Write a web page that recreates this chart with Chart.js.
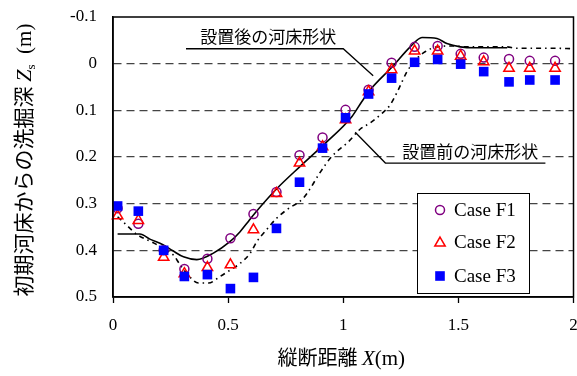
<!DOCTYPE html>
<html>
<head>
<meta charset="utf-8">
<script src="https://cdn.jsdelivr.net/npm/chart.js@4.4.1/dist/chart.umd.min.js"></script>
<style>
  html, body { margin: 0; padding: 0; background: #fff; overflow: hidden; }
  /* a little wider than the window: the point overflow padding eats into the right edge */
  #wrap { width: 581px; height: 376px; }
</style>
</head>
<body>
<div id="wrap"><canvas id="scourChart"></canvas></div>
<script>
// measured positions along the flume (m)
const caseX = [0.02, 0.11, 0.22, 0.31, 0.41, 0.51, 0.61, 0.71, 0.81, 0.91,
               1.01, 1.11, 1.21, 1.31, 1.41, 1.51, 1.61, 1.72, 1.81, 1.92];
const caseF1 = [0.31, 0.343, 0.40, 0.44, 0.418, 0.374, 0.322, 0.275, 0.196, 0.158,
                0.099, 0.056, -0.002, -0.036, -0.038, -0.021, -0.013, -0.01, -0.006, -0.006];
const caseF2 = [0.326, 0.336, 0.415, 0.45, 0.437, 0.431, 0.356, 0.278, 0.213, 0.178,
                0.12, 0.06, 0.013, -0.027, -0.027, -0.016, -0.004, 0.01, 0.01, 0.01];
const caseF3 = [0.305, 0.316, 0.40, 0.456, 0.452, 0.482, 0.458, 0.353, 0.254, 0.181,
                0.116, 0.065, 0.031, -0.003, -0.009, 0.001, 0.017, 0.039, 0.035, 0.035];

// bed profile after installation (solid)
const afterX = [0.02, 0.117, 0.16, 0.217, 0.26, 0.306, 0.364, 0.436, 0.509, 0.552, 0.588, 0.617,
                0.711, 0.813, 0.914, 1.038, 1.081, 1.117, 1.214, 1.291, 1.342, 1.407, 1.45,
                1.509, 1.567, 1.712];
const afterZ = [0.365, 0.365, 0.376, 0.388, 0.401, 0.414, 0.42, 0.406, 0.381, 0.36, 0.338, 0.32,
                0.268, 0.22, 0.174, 0.113, 0.081, 0.056, 0.006, -0.036, -0.056, -0.054, -0.043,
                -0.036, -0.034, -0.034];

// bed profile before installation (dash-dot)
const beforeX = [0.02, 0.055, 0.104, 0.18, 0.22, 0.262, 0.29, 0.33, 0.371, 0.415, 0.465, 0.50,
                 0.552, 0.596, 0.625, 0.66, 0.711, 0.755, 0.827, 0.86, 0.893, 0.95, 1.023, 1.074,
                 1.117, 1.16, 1.204, 1.24, 1.277, 1.32, 1.357, 1.407, 1.48, 1.53, 1.71, 1.75,
                 1.92, 2.0];
const beforeZ = [0.328, 0.344, 0.366, 0.385, 0.397, 0.41, 0.43, 0.455, 0.47, 0.47, 0.456, 0.445,
                 0.428, 0.406, 0.381, 0.36, 0.331, 0.313, 0.288, 0.265, 0.238, 0.199, 0.167, 0.14,
                 0.127, 0.11, 0.088, 0.055, 0.017, -0.011, -0.026, -0.036, -0.038, -0.036, -0.036,
                 -0.033, -0.033, -0.032];

const xTicks = [0, 0.5, 1, 1.5, 2];
const yTicks = [-0.1, 0, 0.1, 0.2, 0.3, 0.4, 0.5];
const legendNames = ['Case F1', 'Case F2', 'Case F3'];

const SERIF = '"Liberation Serif", "Times New Roman", serif';
const JP = '"Noto Sans CJK JP", sans-serif';

function pts(xs, ys) {
    return xs.map((x, i) => ({ x: x, y: ys[i] }));
}

// draws the plot frame, leader labels, legend and axis titles
const decorations = {
    id: 'decorations',
    afterDraw(chart) {
        const ctx = chart.ctx;
        const a = chart.chartArea;
        const sx = chart.scales.x, sy = chart.scales.y;
        const P = (x, y) => [sx.getPixelForValue(x), sy.getPixelForValue(y)];

        ctx.save();
        // frame
        ctx.strokeStyle = '#000';
        ctx.lineWidth = 1.5;
        ctx.strokeRect(a.left, a.top, a.right - a.left, a.bottom - a.top);

        // leader lines
        ctx.lineWidth = 1.3;
        ctx.beginPath();
        let p = P(0.317, -0.032); ctx.moveTo(p[0], p[1]);
        p = P(1.0, -0.032); ctx.lineTo(p[0], p[1]);
        p = P(1.13, 0.026); ctx.lineTo(p[0], p[1]);
        ctx.stroke();
        ctx.beginPath();
        p = P(1.052, 0.147); ctx.moveTo(p[0], p[1]);
        p = P(1.183, 0.213); ctx.lineTo(p[0], p[1]);
        p = P(1.878, 0.213); ctx.lineTo(p[0], p[1]);
        ctx.stroke();

        ctx.fillStyle = '#000';
        ctx.font = '17px ' + JP;
        ctx.textAlign = 'center';
        ctx.textBaseline = 'middle';
        p = P(0.674, -0.058);
        ctx.fillText('設置後の河床形状', p[0], p[1]);
        p = P(1.552, 0.189);
        ctx.clearRect(p[0] - 72, p[1] - 9, 144, 18);
        ctx.fillText('設置前の河床形状', p[0], p[1]);

        // legend
        const lx = 417, ly = 193, lw = 112, lh = 100;
        ctx.fillStyle = '#fff';
        ctx.fillRect(lx, ly, lw, lh);
        ctx.strokeStyle = '#000';
        ctx.lineWidth = 1;
        ctx.strokeRect(lx + 0.5, ly + 0.5, lw, lh);
        const rows = [210, 242, 276];
        ctx.font = '19px ' + SERIF;
        ctx.textAlign = 'left';
        rows.forEach((ry, i) => {
            const ds = chart.data.datasets[i];
            ctx.fillStyle = ds.backgroundColor;
            ctx.strokeStyle = ds.borderColor;
            ctx.lineWidth = ds.borderWidth;
            ctx.beginPath();
            if (ds.pointStyle === 'circle') {
                ctx.arc(440, ry, ds.pointRadius, 0, Math.PI * 2);
            } else if (ds.pointStyle === 'triangle') {
                for (let k = 0; k < 3; k++) {
                    const ang = k * 2 * Math.PI / 3;
                    const px = 440 + Math.sin(ang) * ds.pointRadius;
                    const py = ry + 1 - Math.cos(ang) * ds.pointRadius;
                    if (k === 0) ctx.moveTo(px, py); else ctx.lineTo(px, py);
                }
                ctx.closePath();
            } else {
                const s = ds.pointRadius * Math.SQRT1_2;
                ctx.rect(440 - s, ry - s, 2 * s, 2 * s);
            }
            ctx.fill();
            if (ds.borderWidth > 0) ctx.stroke();
            ctx.fillStyle = '#000';
            ctx.fillText(legendNames[i], 454, ry + 1);
        });

        // x axis title: 縦断距離 X(m)
        const xParts = [
            { t: '縦断距離 ', f: '20px ' + JP },
            { t: 'X', f: 'italic 21px ' + SERIF },
            { t: '(m)', f: '21px ' + SERIF }
        ];
        let total = 0;
        xParts.forEach(q => { ctx.font = q.f; q.w = ctx.measureText(q.t).width; total += q.w; });
        let cx = (a.left + a.right) / 2 - total / 2 - 2;
        ctx.textBaseline = 'alphabetic';
        xParts.forEach(q => { ctx.font = q.f; ctx.fillText(q.t, cx, 365); cx += q.w; });

        // y axis title (rotated): 初期河床からの洗掘深 Zs (m)
        const yParts = [
            { t: '初期河床からの洗掘深 ', f: '21px ' + JP, dy: 0 },
            { t: 'Z', f: 'italic 22px ' + SERIF, dy: 0 },
            { t: 's', f: '13px ' + SERIF, dy: 4 },
            { t: '  (m)', f: '21px ' + SERIF, dy: 0 }
        ];
        total = 0;
        yParts.forEach(q => { ctx.font = q.f; q.w = ctx.measureText(q.t).width; total += q.w; });
        ctx.translate(31, 160);
        ctx.rotate(-Math.PI / 2);
        cx = -total / 2;
        yParts.forEach(q => { ctx.font = q.f; ctx.fillText(q.t, cx, q.dy); cx += q.w; });
        ctx.restore();
    }
};

new Chart(document.getElementById('scourChart').getContext('2d'), {
    type: 'scatter',
    data: {
        datasets: [
            {
                label: 'Case F1',
                data: pts(caseX, caseF1),
                pointStyle: 'circle',
                pointRadius: 4.5,
                borderColor: '#800080',
                backgroundColor: 'rgba(0,0,0,0)',
                borderWidth: 1.5,
                order: 3
            },
            {
                label: 'Case F2',
                data: pts(caseX, caseF2),
                pointStyle: 'triangle',
                pointRadius: 6,
                borderColor: '#ff0000',
                backgroundColor: 'rgba(0,0,0,0)',
                borderWidth: 1.5,
                order: 2
            },
            {
                label: 'Case F3',
                data: pts(caseX, caseF3),
                pointStyle: 'rect',
                pointRadius: 6.8,
                borderColor: '#0000ff',
                backgroundColor: '#0000ff',
                borderWidth: 0,
                order: 1
            },
            {
                label: '設置後の河床形状',
                data: pts(afterX, afterZ),
                showLine: true,
                pointRadius: 0,
                borderColor: '#000',
                borderWidth: 1.6,
                cubicInterpolationMode: 'monotone',
                order: 4
            },
            {
                label: '設置前の河床形状',
                data: pts(beforeX, beforeZ),
                showLine: true,
                pointRadius: 0,
                borderColor: '#000',
                borderWidth: 1.6,
                borderDash: [5, 4, 1.5, 4],
                cubicInterpolationMode: 'monotone',
                order: 5
            }
        ]
    },
    options: {
        responsive: true,
        maintainAspectRatio: false,
        animation: false,
        clip: false,
        layout: { padding: { top: 17, right: 4, left: 0, bottom: 0 } },
        plugins: {
            legend: { display: false },
            tooltip: { enabled: false }
        },
        scales: {
            x: {
                type: 'linear',
                min: 0,
                max: 2,
                afterBuildTicks: function(scale) {
                    scale.ticks = xTicks.map(v => ({ value: v }));
                },
                afterFit: function(scale) {
                    scale.height = 79;
                    scale.paddingLeft = 0;
                    scale.paddingRight = 0;
                },
                ticks: {
                    color: '#000',
                    padding: 0,
                    font: { family: SERIF, size: 17, lineHeight: 2.7 },
                    callback: v => String(v)
                },
                grid: {
                    drawOnChartArea: false,
                    drawTicks: true,
                    tickLength: 6,
                    tickColor: '#000',
                    tickWidth: 1.3
                },
                border: { display: true, color: '#000', width: 1.5 }
            },
            y: {
                type: 'linear',
                min: -0.1,
                max: 0.5,
                reverse: true,
                afterBuildTicks: function(scale) {
                    scale.ticks = yTicks.map(v => ({ value: v }));
                },
                afterFit: function(scale) { scale.width = 113; },
                ticks: {
                    color: '#000',
                    padding: 0,
                    font: { family: SERIF, size: 17 },
                    callback: v => String(Math.round(v * 10) / 10)
                },
                grid: {
                    drawTicks: true,
                    tickLength: 16,
                    tickColor: 'rgba(0,0,0,0)',
                    lineWidth: 1.2,
                    color: ctx => (ctx.tick && (ctx.tick.value < -0.05 || ctx.tick.value > 0.45)) ? 'rgba(0,0,0,0)' : '#444'
                },
                border: { display: true, color: '#000', width: 1.5, dash: [8, 5] }
            }
        }
    },
    plugins: [decorations]
});
</script>
</body>
</html>
